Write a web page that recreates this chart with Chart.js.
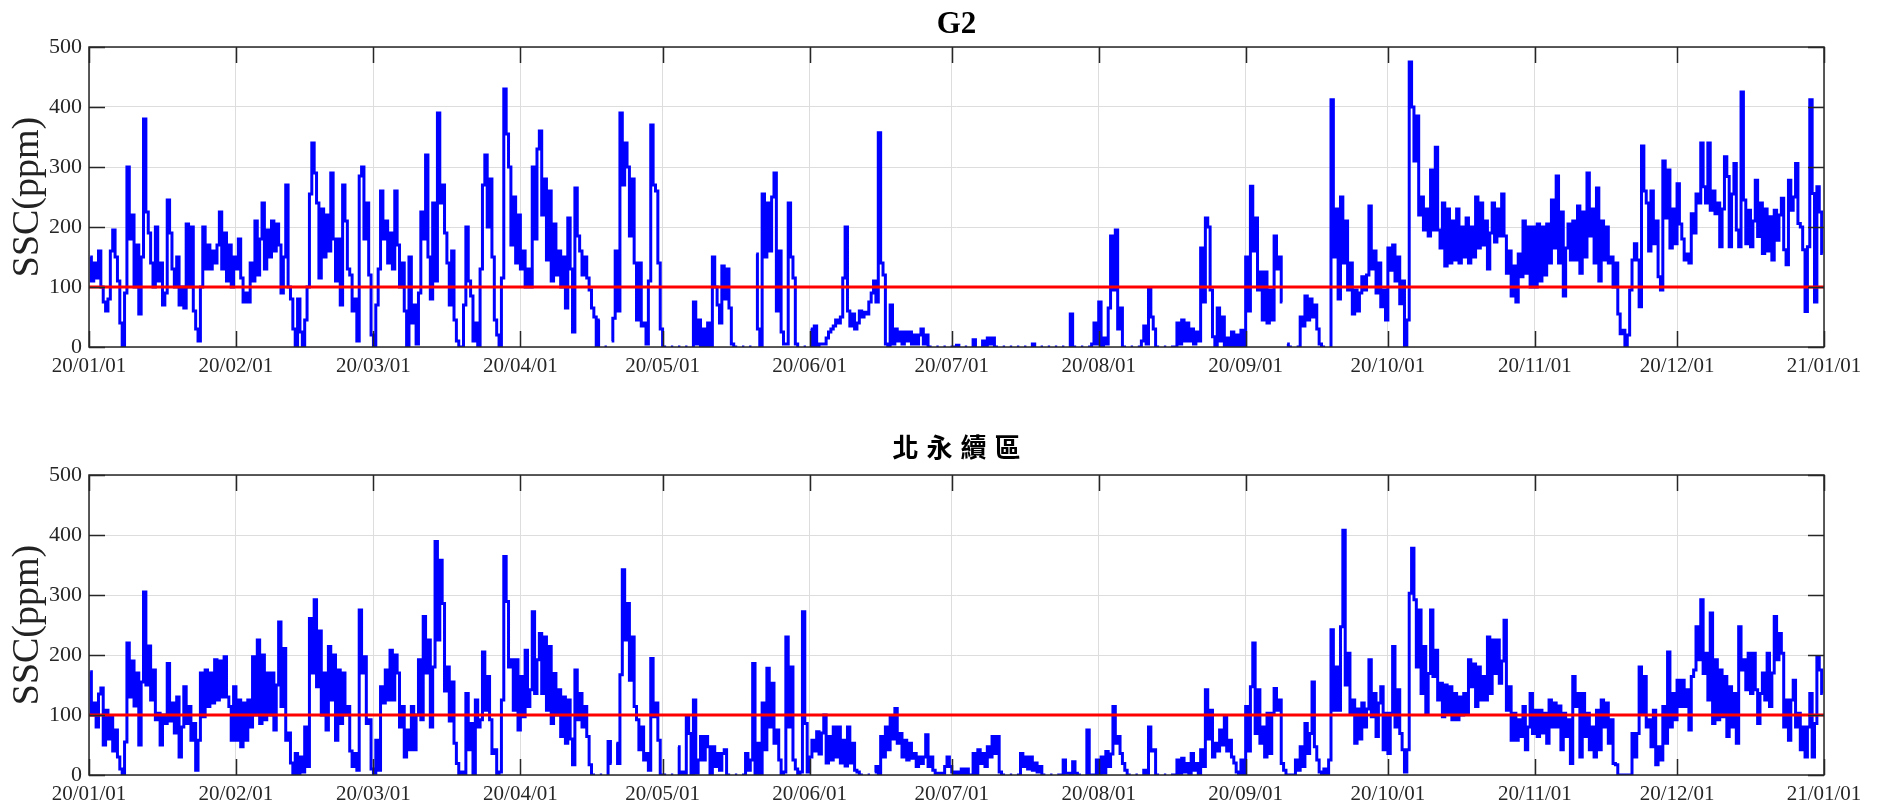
<!DOCTYPE html>
<html><head><meta charset="utf-8">
<script src="https://cdn.jsdelivr.net/npm/chart.js@4.4.0/dist/chart.umd.min.js"></script>
<style>
html,body{margin:0;padding:0;background:#fff;}
#wrap{position:relative;width:1885px;height:812px;overflow:hidden;}
canvas{position:absolute;left:0;}
</style></head><body>
<div id="wrap">
<canvas id="c1" width="1885" height="406" style="top:0"></canvas>
<canvas id="c2" width="1885" height="406" style="top:406px"></canvas>
</div>
<script>
const _ = null;
const monthLabels = ['20/01/01','20/02/01','20/03/01','20/04/01','20/05/01','20/06/01','20/07/01','20/08/01','20/09/01','20/10/01','20/11/01','20/12/01','21/01/01'];
const monthDays = [31,29,31,30,31,30,31,31,30,31,30,31];
const yTicks = [0,100,200,300,400,500];
const threshold = 100;

// G2 — two readings per day (ppm), null = no data
const g2Jan = [150,110,140,115,160,100,75,60,80,160,195,150,110,40,0,90,300,180,220,100,170,55,150,380,225,190,140,100,200,110,140,70,90,245,190,130,100,150,70,100,65,205,100,200,60,30,10,100,200,130,170,130,160,140,170,225,130,190,110,170,100,150];
const g2Feb = [130,180,115,75,90,75,140,110,210,120,180,240,130,195,150,210,160,205,170,90,150,270,100,80,30,0,80,25,0,45,100,255,340,290,240,115,230,150,220,160,290,180,110,180,70,270,210,130,120,60,80,10,285,300,180,240,120,20];
const g2Mar = [0,70,130,260,180,210,140,190,130,260,170,100,140,60,0,150,40,70,5,90,225,180,320,150,80,240,110,390,240,270,190,140,70,160,45,10,0,0,70,200,110,85,10,40,0,130,270,320,200,280,150,45,20,0,115,430,355,300,170,250,140,220];
const g2Apr = [130,160,100,130,100,300,180,330,360,220,280,145,260,110,205,120,160,100,150,65,215,130,25,265,185,160,120,150,115,95,65,50,0,45,_,0,0,_,10,48,160,60,390,270,340,300,185,280,140,45,140,35,40,5,110,370,270,260,140,30];
const g2May = [0,0,_,0,0,_,0,0,_,0,0,_,0,75,5,45,0,30,0,40,0,150,100,70,40,135,80,130,65,5,0,0,_,0,0,_,0,0,_,155,30,0,255,150,240,160,250,290,60,160,25,5,5,240,150,115,5,0,_,0,0,_];
const g2Jun = [30,0,35,0,5,5,5,15,25,30,35,45,40,50,115,200,60,35,55,30,40,60,50,58,55,75,90,110,75,357,140,120,5,0,70,5,30,10,25,5,25,10,25,5,20,5,20,30,5,20,0,0,_,0,0,_,0,0,_,0];
const g2Jul = [0,0,3,0,_,0,0,_,0,12,0,_,0,10,0,15,5,15,0,0,_,0,0,_,0,0,_,0,0,_,0,0,_,0,5,0,_,0,0,_,0,0,_,0,0,_,0,0,_,0,55,0,0,_,0,0,_,0,0,5,40,5];
const g2Aug = [75,0,15,5,65,185,95,195,30,65,0,0,_,0,0,_,0,0,10,35,5,98,50,30,0,0,_,0,0,_,0,0,0,40,5,45,10,40,10,30,5,25,10,165,75,215,200,95,17,0,65,10,50,0,15,0,25,0,20,0,28,0];
const g2Sep = [150,60,268,160,215,95,125,45,125,40,95,45,185,130,150,75,_,5,0,0,_,0,0,50,35,85,45,80,50,70,30,5,0,0,_,0,412,150,230,80,250,140,210,95,140,55,95,60,90,117,95,120,235,130,160,90,140,67,95,45];
const g2Oct = [165,128,170,110,150,72,110,0,45,475,400,310,385,220,250,195,230,185,295,195,333,195,165,240,135,230,140,210,145,230,140,200,150,215,140,200,150,250,165,240,170,210,130,190,240,175,230,185,255,185,123,160,85,135,75,155,117,210,123,200,100,200];
const g2Nov = [100,205,110,200,120,205,140,245,165,285,140,225,85,165,205,145,210,145,235,123,225,150,290,185,230,140,265,110,210,145,200,140,150,100,140,55,22,28,0,20,95,145,172,145,67,335,260,240,160,260,172,210,117,95,310,215,295,165,230,172];
const g2Dec = [272,205,180,145,155,140,222,190,255,240,340,267,240,340,228,260,222,240,167,230,317,284,167,255,306,195,167,425,245,172,228,167,210,278,184,240,156,230,160,217,145,228,178,220,248,162,137,278,228,250,306,206,200,162,59,167,412,256,75,267,225,156];

// 北永續區 — two readings per day (ppm)
const nJan = [172,100,120,80,135,145,50,108,60,97,40,75,30,10,0,55,220,130,190,115,170,50,155,305,150,215,125,175,92,103,50,100,86,186,90,120,70,130,30,80,147,86,114,58,86,8,58,170,97,175,114,170,120,192,125,190,130,197,130,114,58,147];
const nFeb = [58,125,47,120,58,125,80,197,100,225,86,200,92,170,100,170,75,150,255,114,211,58,70,20,0,36,0,30,5,80,14,261,170,292,147,240,100,170,75,214,125,200,58,175,86,170,100,114,40,14,36,8,275,170,197,86,92,10];
const nMar = [3,58,8,147,120,175,125,208,125,200,170,80,114,30,75,42,114,42,100,192,92,264,170,225,80,180,389,225,358,286,140,180,90,155,53,19,0,5,0,136,42,86,0,125,80,92,205,108,164,92,36,42,0,5,125,364,289,180,192,108,192,75];
const nApr = [164,97,208,114,142,272,136,192,236,136,230,108,214,86,169,100,142,64,130,53,125,60,17,175,92,136,80,114,64,17,0,0,_,0,0,_,0,56,19,_,53,19,167,342,225,286,158,230,114,92,42,80,25,36,8,194,97,120,58,0];
const nMay = [0,0,_,0,0,_,47,0,5,0,97,69,0,125,3,25,64,25,64,47,0,47,14,36,8,36,42,0,0,_,0,0,_,0,0,36,8,25,186,0,53,0,120,42,178,80,153,53,75,25,0,5,230,80,180,25,10,0,5,272,86,5];
const nJun = [30,58,40,72,35,70,100,20,64,25,80,30,80,20,58,15,80,20,53,8,5,0,0,_,0,0,_,5,14,0,64,30,80,42,97,60,111,53,69,30,58,25,53,28,36,14,30,19,30,67,14,30,8,3,3,3,3,14,30,14];
const nJul = [5,0,5,0,10,0,10,0,0,36,0,42,19,36,14,47,30,64,36,64,5,0,0,_,0,0,_,0,0,36,14,30,10,30,8,20,5,14,0,0,_,0,0,_,0,0,0,25,3,3,0,22,3,0,0,_,0,75,0,0,0,25];
const nAug = [0,30,3,39,14,35,114,53,64,36,19,8,0,0,_,0,0,_,0,8,0,80,40,42,0,0,_,0,0,_,0,0,0,25,0,28,5,19,0,36,8,19,0,42,14,142,60,108,30,53,40,75,50,97,40,58,30,20,5,0,25,0];
const nSep = [114,40,147,220,69,142,53,80,30,103,36,103,144,108,125,19,8,0,0,0,0,25,8,47,14,86,36,69,155,47,25,5,0,10,0,25,242,108,180,108,247,408,150,203,103,125,53,110,60,120,80,110,192,97,136,64,120,147,42,103];
const nOct = [36,103,214,80,142,69,42,5,42,303,378,292,180,275,136,214,103,169,275,164,208,125,153,97,150,103,147,92,136,92,130,100,136,103,192,147,185,114,180,125,164,125,230,136,225,169,225,153,190,258,108,147,58,103,58,92,64,114,42,80,136,69];
const nNov = [108,64,108,70,103,53,125,80,120,80,115,42,103,64,92,19,164,114,136,30,136,64,103,42,80,30,108,42,125,80,120,53,92,19,17,0,0,0,0,0,0,69,30,69,180,103,164,80,92,47,108,17,47,25,114,53,205,80,136,92];
const nDec = [158,114,158,114,142,75,164,175,247,192,292,169,203,125,270,86,192,92,175,97,164,64,147,80,136,53,247,175,192,142,203,136,203,142,86,136,170,125,203,114,170,264,192,236,203,80,125,58,125,158,80,103,42,80,30,80,136,30,86,197,175,136];

const monthStarts = [0];
monthDays.forEach(d => monthStarts.push(monthStarts[monthStarts.length-1] + d));

function buildSeries(months){
  const out = [];
  months.forEach((arr, m) => {
    const step = monthDays[m] / arr.length;
    arr.forEach((v, i) => out.push({x: monthStarts[m] + (i + 0.5) * step, y: v}));
  });
  return out;
}

const serif = "'Liberation Serif','Times New Roman',serif";
const axisColor = '#262626';

const framePlugin = {
  id: 'frame',
  afterDraw(chart, args, opts){
    const {ctx, chartArea: a, scales} = chart;
    const x = scales.x, y = scales.y;
    ctx.save();
    ctx.strokeStyle = axisColor; ctx.lineWidth = 1.5;
    ctx.strokeRect(a.left, a.top, a.right - a.left, a.bottom - a.top);
    ctx.beginPath();
    monthStarts.forEach(v => {
      const px = Math.round(x.getPixelForValue(v)) + 0.5;
      ctx.moveTo(px, a.bottom); ctx.lineTo(px, a.bottom - 16);
      ctx.moveTo(px, a.top); ctx.lineTo(px, a.top + 16);
    });
    yTicks.forEach(v => {
      const py = Math.round(y.getPixelForValue(v)) + 0.5;
      ctx.moveTo(a.left, py); ctx.lineTo(a.left + 16, py);
      ctx.moveTo(a.right, py); ctx.lineTo(a.right - 16, py);
    });
    ctx.stroke();
    ctx.fillStyle = '#000';
    ctx.font = opts.font;
    ctx.textAlign = 'center';
    ctx.textBaseline = opts.baseline;
    let cx = (a.left + a.right) / 2;
    if (opts.spacing) { ctx.letterSpacing = opts.spacing + 'px'; cx += opts.spacing / 2; }
    ctx.fillText(opts.text, cx, opts.y);
    ctx.restore();
  }
};

function makeChart(id, titleOpts, months, padTop, xAxisH){
  return new Chart(document.getElementById(id), {
    type: 'line',
    data: {
      datasets: [
        { data: [{x: 0, y: threshold}, {x: 366, y: threshold}], borderColor: '#ff0000', borderWidth: 3, pointRadius: 0, order: 0 },
        { data: buildSeries(months), borderColor: '#0000ff', borderWidth: 3, pointRadius: 0, spanGaps: false, stepped: 'middle', order: 1 }
      ]
    },
    options: {
      responsive: false, animation: false, devicePixelRatio: 1,
      layout: { padding: { top: padTop, left: 0, right: 61, bottom: 0 } },
      plugins: { legend: { display: false }, tooltip: { enabled: false }, frame: titleOpts },
      scales: {
        x: {
          type: 'linear', min: 0, max: 366,
          afterBuildTicks: s => { s.ticks = monthStarts.map(v => ({ value: v })); },
          afterFit: s => { s.height = xAxisH; },
          ticks: { autoSkip: false, maxRotation: 0, padding: 7, color: axisColor,
                   font: { family: serif, size: 21 },
                   callback: v => monthLabels[monthStarts.indexOf(v)] },
          grid: { color: '#dddddd', lineWidth: 1, drawTicks: false },
          border: { display: false }
        },
        y: {
          min: 0, max: 500,
          afterBuildTicks: s => { s.ticks = yTicks.map(v => ({ value: v })); },
          afterFit: s => { s.width = 89; },
          ticks: { padding: 7, color: axisColor, font: { family: serif, size: 22 } },
          grid: { color: '#dddddd', lineWidth: 1, drawTicks: false },
          border: { display: false },
          title: { display: true, text: 'SSC(ppm)', color: '#222', font: { family: serif, size: 38 }, padding: { top: 5, bottom: 0 } }
        }
      }
    },
    plugins: [framePlugin]
  });
}

makeChart('c1', { text: 'G2', font: "bold 31px " + serif, baseline: 'alphabetic', y: 33 },
  [g2Jan, g2Feb, g2Mar, g2Apr, g2May, g2Jun, g2Jul, g2Aug, g2Sep, g2Oct, g2Nov, g2Dec], 47, 59);
makeChart('c2', { text: '北永續區', font: "bold 26px 'Noto Sans CJK TC'", baseline: 'middle', y: 41, spacing: 8 },
  [nJan, nFeb, nMar, nApr, nMay, nJun, nJul, nAug, nSep, nOct, nNov, nDec], 69, 37);
</script>
</body></html>
